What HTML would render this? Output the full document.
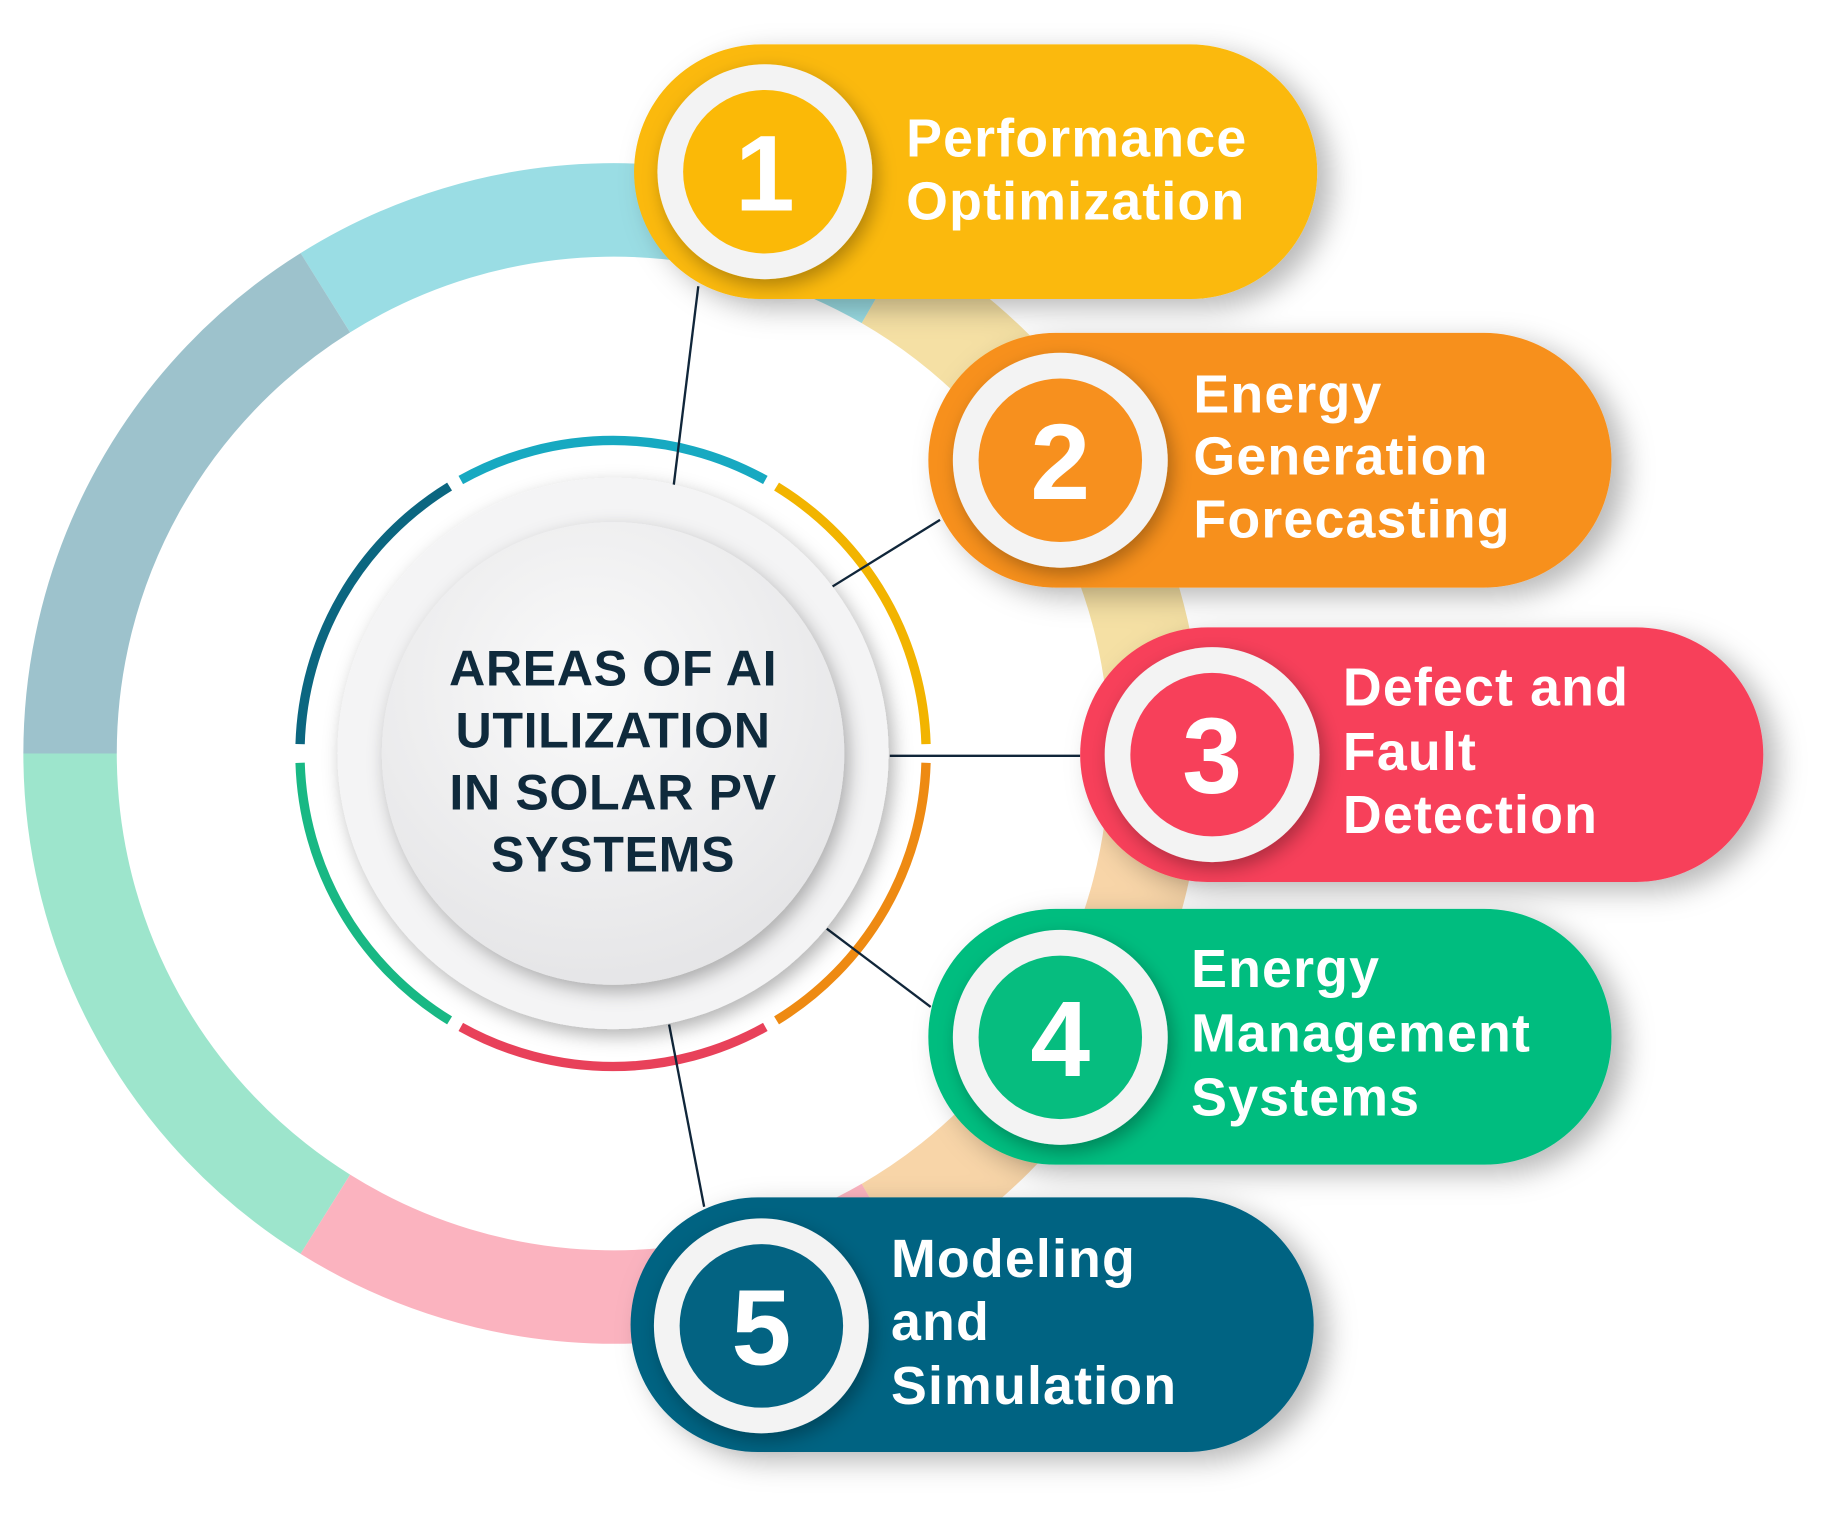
<!DOCTYPE html>
<html><head><meta charset="utf-8"><style>
html,body{margin:0;padding:0;background:#fff;}
svg{display:block;}
text{font-family:"Liberation Sans",sans-serif;font-weight:bold;}
</style></head><body>
<svg width="1831" height="1535" viewBox="0 0 1568 1314" preserveAspectRatio="none" xmlns="http://www.w3.org/2000/svg">
<defs>
<filter id="sh" x="-20%" y="-30%" width="150%" height="170%">
<feDropShadow dx="12" dy="8" stdDeviation="12" flood-color="#000" flood-opacity="0.28"/>
</filter>
<filter id="sh2" x="-30%" y="-30%" width="160%" height="160%">
<feDropShadow dx="4" dy="6" stdDeviation="8" flood-color="#000" flood-opacity="0.3"/>
</filter>
<radialGradient id="g1" cx="45%" cy="35%" r="70%">
<stop offset="0" stop-color="#fafafa"/><stop offset="1" stop-color="#e4e4e6"/>
</radialGradient>
</defs>
<g fill="none" stroke-width="80">
<path d="M 278.6 250.6 A 465 465 0 0 1 758 242" stroke="#9adde4"/>
<path d="M 60 645 A 465 465 0 0 1 278.6 250.6" stroke="#9dc2cc"/>
<path d="M 278.6 1039.4 A 465 465 0 0 1 60 645" stroke="#9de5cc"/>
<path d="M 758 1048 A 465 465 0 0 1 278.6 1039.4" stroke="#fbb3bf"/>
<path d="M 758 242 A 465 465 0 0 1 990 645" stroke="#f5e0a4"/>
<path d="M 990 645 A 465 465 0 0 1 758 1048" stroke="#f8d5a8"/>
</g>
<g fill="none" stroke-width="8" transform="translate(525,645)">
<path d="M -130.4 -234.1 A 268 268 0 0 1 130.4 -234.1" stroke="#17a9c1"/>
<path d="M 140 -228.5 A 268 268 0 0 1 268 -8" stroke="#f2b400"/>
<path d="M 268 8 A 268 268 0 0 1 140 228.5" stroke="#ee8a12"/>
<path d="M 130.4 234.1 A 268 268 0 0 1 -130.4 234.1" stroke="#e8415a"/>
<path d="M -140 228.5 A 268 268 0 0 1 -268 8" stroke="#18b884"/>
<path d="M -268 -8 A 268 268 0 0 1 -140 -228.5" stroke="#0b6680"/>
</g>
<g stroke="#10263a" stroke-width="2">
<line x1="598" y1="245" x2="577" y2="415"/>
<line x1="805" y1="445" x2="713" y2="502"/>
<line x1="762" y1="647" x2="925" y2="647"/>
<line x1="708" y1="795" x2="797" y2="862"/>
<line x1="573" y1="877" x2="603" y2="1033"/>
</g>
<circle cx="525" cy="645" r="236" fill="#f4f4f5" filter="url(#sh2)"/>
<circle cx="525" cy="645" r="198" fill="url(#g1)" filter="url(#sh2)"/>
<g fill="#0f2a3c" font-size="43" text-anchor="middle" letter-spacing="0.5">
<text x="525" y="587">AREAS OF AI</text>
<text x="525" y="640">UTILIZATION</text>
<text x="525" y="693">IN SOLAR PV</text>
<text x="525" y="746">SYSTEMS</text>
</g>
<g filter="url(#sh)">
<rect x="543" y="38" width="585" height="218" rx="109" fill="#fbb907"/>
<rect x="795" y="285" width="585" height="218" rx="109" fill="#f7901e"/>
<rect x="925" y="537" width="585" height="218" rx="109" fill="#f7405a"/>
<rect x="795" y="778" width="585" height="219" rx="109" fill="#06bd7f"/>
<rect x="540" y="1025" width="585" height="218" rx="109" fill="#036382"/>
</g>
<g filter="url(#sh2)">
<circle cx="655" cy="147" r="92" fill="#f3f3f3"/>
<circle cx="908" cy="394" r="92" fill="#f3f3f3"/>
<circle cx="1038" cy="646" r="92" fill="#f3f3f3"/>
<circle cx="908" cy="888" r="92" fill="#f3f3f3"/>
<circle cx="652" cy="1135" r="92" fill="#f3f3f3"/>
</g>
<circle cx="655" cy="147" r="70" fill="#fbb907"/>
<circle cx="908" cy="394" r="70" fill="#f7901e"/>
<circle cx="1038" cy="646" r="70" fill="#f7405a"/>
<circle cx="908" cy="888" r="70" fill="#06bd7f"/>
<circle cx="652" cy="1135" r="70" fill="#036382"/>
<g fill="#fff" font-size="92" text-anchor="middle">
<text x="655" y="180">1</text>
<text x="908" y="427">2</text>
<text x="1038" y="679">3</text>
<text x="908" y="921">4</text>
<text x="652" y="1168">5</text>
</g>
<g fill="#fff" font-size="46" letter-spacing="1">
<text x="776" y="134">Performance</text>
<text x="776" y="188">Optimization</text>
<text x="1022" y="353">Energy</text>
<text x="1022" y="406">Generation</text>
<text x="1022" y="460">Forecasting</text>
<text x="1150" y="604">Defect and</text>
<text x="1150" y="659">Fault</text>
<text x="1150" y="713">Detection</text>
<text x="1020" y="845">Energy</text>
<text x="1020" y="900">Management</text>
<text x="1020" y="955">Systems</text>
<text x="763" y="1093">Modeling</text>
<text x="763" y="1147">and</text>
<text x="763" y="1202">Simulation</text>
</g>
</svg>
</body></html>
